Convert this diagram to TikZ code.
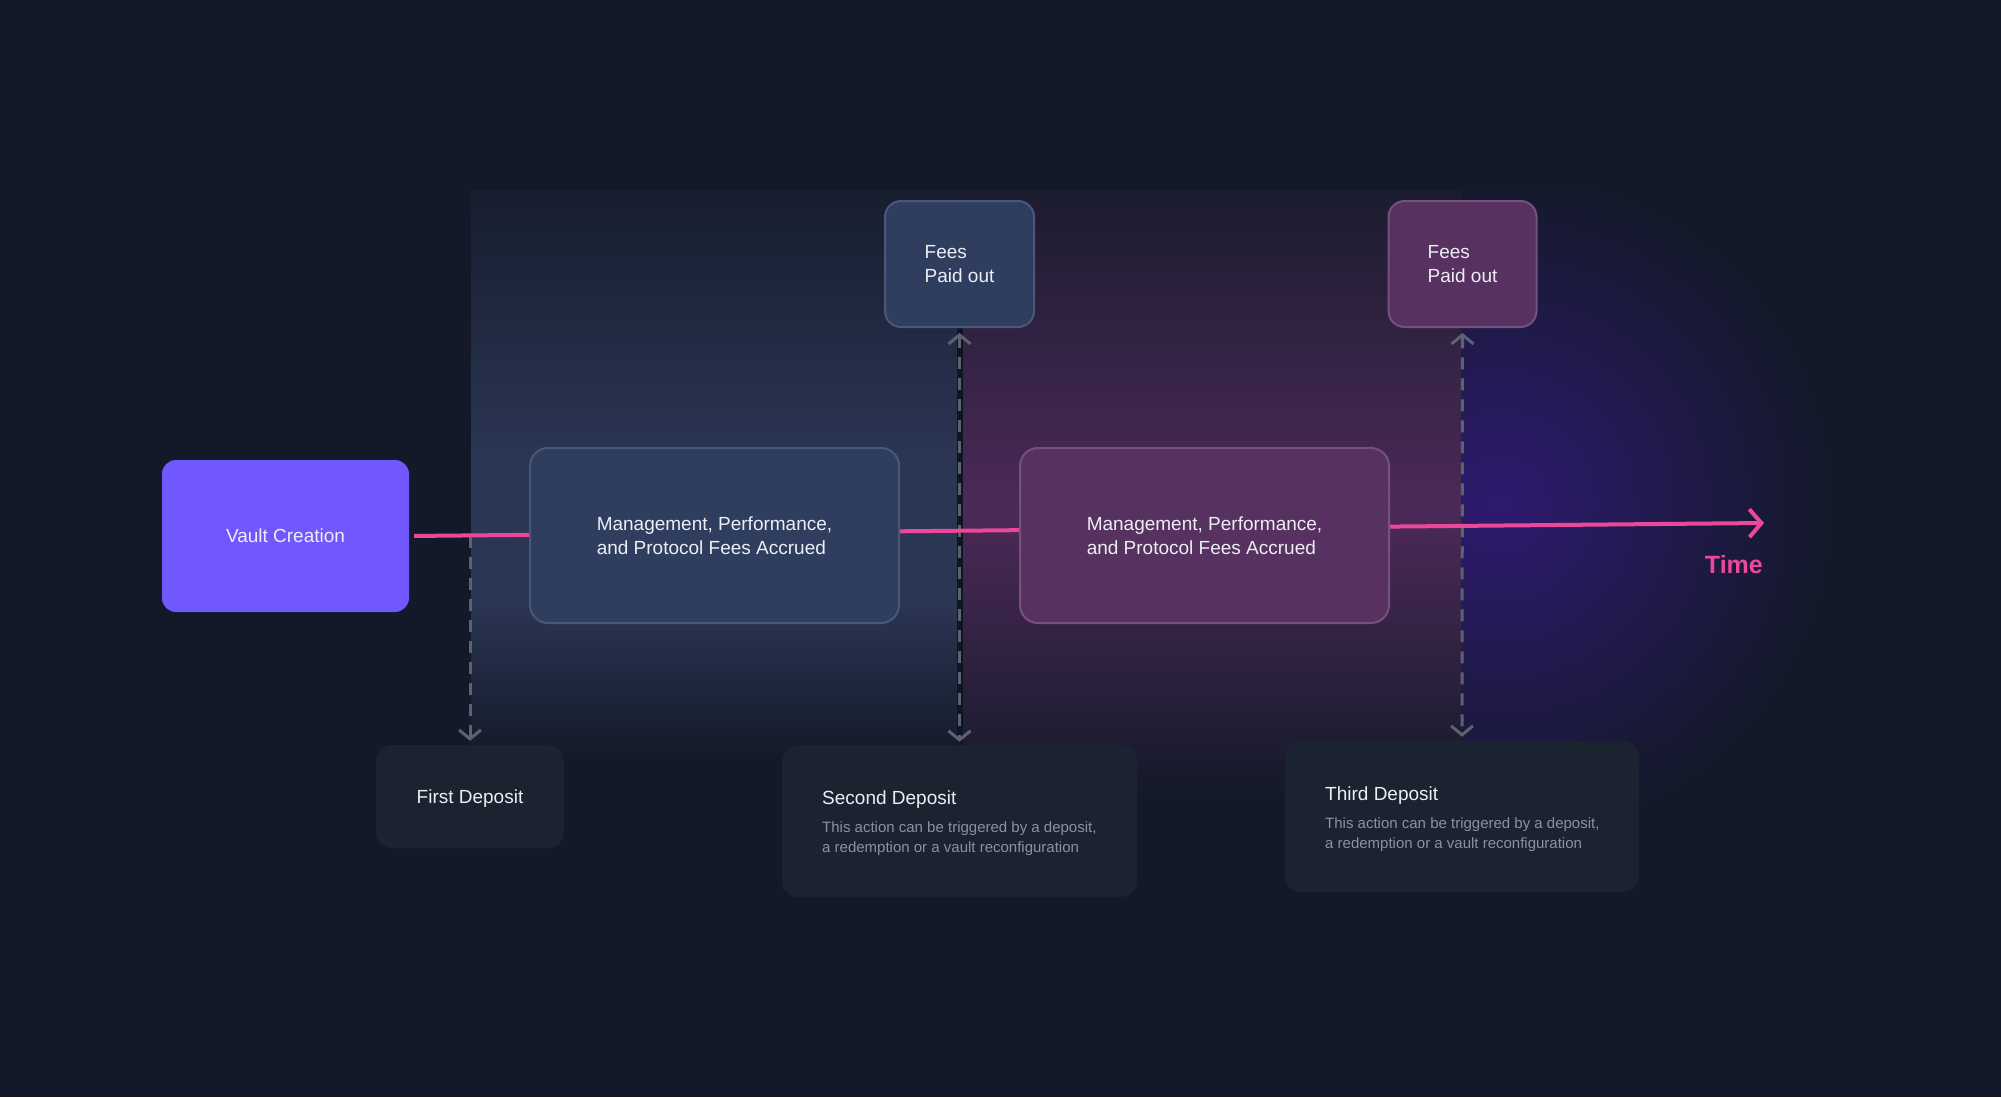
\documentclass[tikz,border=0pt]{standalone}
\usepackage{fontspec}
\setmainfont{Liberation Sans}
\usetikzlibrary{arrows.meta}
\definecolor{bgnavy}{RGB}{19,25,40}
\definecolor{vaultviolet}{RGB}{113,87,254}
\definecolor{slatefill}{RGB}{47,61,95}
\definecolor{slateedge}{RGB}{74,87,119}
\definecolor{plumfill}{RGB}{87,49,96}
\definecolor{plumedge}{RGB}{117,81,125}
\definecolor{depfill}{RGB}{27,34,48}
\definecolor{ink}{RGB}{236,238,243}
\definecolor{muted}{RGB}{139,145,158}
\definecolor{hotpink}{RGB}{236,72,153}
\definecolor{guidegray}{RGB}{92,98,112}
\definecolor{bandblue}{RGB}{43,54,84}
\definecolor{bandplum}{RGB}{76,42,88}
\definecolor{glowviolet}{RGB}{46,26,112}
\pgfdeclarelayer{back}
\pgfdeclarelayer{mid}
\pgfsetlayers{back,mid,main}

\begin{document}
\begin{tikzpicture}[x=1pt,y=-1pt,
    box/.style={rectangle,rounded corners=16pt,inner sep=0pt,text=ink,align=left,font=\fontsize{19}{24}\selectfont},
    vaultbox/.style={box,fill=vaultviolet,minimum width=247pt,minimum height=152pt,rounded corners=14pt},
    bluebox/.style={box,fill=slatefill,draw=slateedge,line width=2pt},
    plumbox/.style={box,fill=plumfill,draw=plumedge,line width=2pt},
    depbox/.style={box,fill=depfill},
    ttl/.style={text=ink,inner sep=0pt,font=\fontsize{19}{24}\selectfont},
    subtxt/.style={text=muted,inner sep=0pt,align=left,font=\fontsize{15}{20}\selectfont},
    guide/.style={draw=guidegray,line width=3pt,dash pattern=on 12pt off 9pt,>={Straight Barb[length=9pt,width=22pt]}},
    timeline/.style={draw=hotpink,line width=4pt,>={Straight Barb[length=12pt,width=28pt]}}]
  \useasboundingbox (0,0) rectangle (2001,1097);

  % glowing bands behind the timeline
  \begin{pgfonlayer}{back}
    \fill[bgnavy] (0,0) rectangle (2001,1097);
    \shade[top color=bandblue!15!bgnavy,bottom color=bandblue] (471,190) rectangle (960,460);
    \fill[bandblue] (471,460) rectangle (960,600);
    \shade[top color=bandblue,bottom color=bgnavy] (471,600) rectangle (960,760);
    \shade[top color=bandplum!15!bgnavy,bottom color=bandplum] (960,190) rectangle (1461,510);
    \shade[top color=bandplum,bottom color=bgnavy] (960,510) rectangle (1461,800);
    \begin{scope}
      \clip (1461,190) rectangle (2001,820);
      \shade[inner color=glowviolet,outer color=bgnavy] (1500,505) circle (340pt);
    \end{scope}
  \end{pgfonlayer}

  \node[vaultbox] (vault) at (285.5,536) {Vault Creation};
  \node[bluebox,minimum width=369pt,minimum height=175pt,rounded corners=18pt] (accr1) at (714.5,535.5) {Management, Performance,\\and Protocol Fees Accrued};
  \node[plumbox,minimum width=369pt,minimum height=175pt,rounded corners=18pt] (accr2) at (1204.5,535.5) {Management, Performance,\\and Protocol Fees Accrued};
  \node[bluebox,minimum width=149pt,minimum height=126pt] (paid1) at (959.5,264) {Fees\\Paid out};
  \node[plumbox,minimum width=148pt,minimum height=126pt] (paid2) at (1462.5,264) {Fees\\Paid out};

  \node[depbox,minimum width=188pt,minimum height=103pt,text depth=0pt] (dep1) at (470,796.5) {First Deposit};
  \node[depbox,minimum width=355pt,minimum height=152pt] (dep2) at (959.5,821) {};
  \node[depbox,minimum width=354pt,minimum height=151pt] (dep3) at (1462,816.5) {};
  \node[ttl,anchor=base west] (dep2t) at (822,804) {Second Deposit};
  \node[subtxt,anchor=base west] (dep2s) at (822,852.7) {This action can be triggered by a deposit,\\a redemption or a vault reconfiguration};
  \node[ttl,anchor=base west] (dep3t) at (1325,800) {Third Deposit};
  \node[subtxt,anchor=base west] (dep3s) at (1325,848.7) {This action can be triggered by a deposit,\\a redemption or a vault reconfiguration};

  \coordinate (tend) at (1764,523);
  \node[text=hotpink,inner sep=0pt,anchor=base east,font=\fontsize{25}{30}\selectfont\bfseries] (timelbl) at (1763,573) {Time};

  \begin{pgfonlayer}{mid}
    \draw[bgnavy!85!black,line width=6pt] (paid1.south) -- (dep2.north);
    \draw[guide,->,shorten >=4pt] (dep1.north |- vault.east) -- (dep1.north);
    \draw[guide,<->,shorten <=5pt,shorten >=3pt] (paid1.south) -- (dep2.north);
    \draw[guide,<->,shorten <=5pt,shorten >=4pt] (paid2.south) -- (dep3.north);
    \draw[timeline,->,shorten <=5pt] (vault.east) -- (tend);
  \end{pgfonlayer}
\end{tikzpicture}
\end{document}
